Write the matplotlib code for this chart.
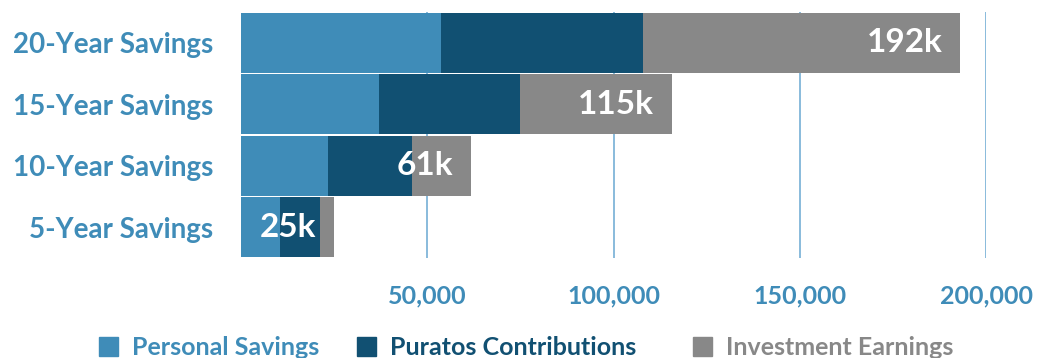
import matplotlib; matplotlib.use('Agg')
import matplotlib.pyplot as plt
from matplotlib.patches import Patch
from matplotlib.ticker import FuncFormatter

plt.rcParams['font.family'] = ['Lato', 'DejaVu Sans']

LIGHT = '#3f8cb8'; DARK = '#115072'; GRAY = '#888888'; GRID = '#6aa8d2'

categories = ['20-Year Savings', '15-Year Savings', '10-Year Savings', '5-Year Savings']
personal = [53.6, 37.0, 23.4, 10.5]      # thousands
puratos = [54.2, 37.9, 22.5, 10.7]
investment = [85.3, 40.8, 15.8, 3.8]
totals_lbl = ['192k', '115k', '61k', '25k']
xticks = [50000, 100000, 150000, 200000]
legend_lbl = ['Personal Savings', 'Puratos Contributions', 'Investment Earnings']

fig = plt.figure(figsize=(10.39, 3.58), dpi=100)
ax = fig.add_axes([241/1039, 1-258/358, 745/1039, 246/358])

y = list(range(len(categories)))[::-1]
p = [v*1000 for v in personal]; c = [v*1000 for v in puratos]; i = [v*1000 for v in investment]
left3 = [a+b for a, b in zip(p, c)]
ax.barh(y, p, height=0.97, color=LIGHT, zorder=2)
ax.barh(y, c, left=p, height=0.97, color=DARK, zorder=2)
ax.barh(y, i, left=left3, height=0.97, color=GRAY, zorder=2)

for yy, a, b, lab in zip(y, left3, i, totals_lbl):
    ax.annotate(lab, xy=(a+b, yy), xytext=(-18, 0), textcoords='offset pixels',
                ha='right', va='center', color='white', fontsize=24, fontweight='bold', zorder=3)

ax.set_xlim(0, 200000); ax.set_ylim(-0.5, 3.5)
ax.set_xticks(xticks)
ax.xaxis.set_major_formatter(FuncFormatter(lambda v, _: f'{int(v):,}'))
ax.set_yticks(y); ax.set_yticklabels(categories)
for s in ax.spines.values(): s.set_visible(False)
ax.grid(axis='x', color=GRID, lw=1.1, zorder=0); ax.grid(axis='y', visible=False)
ax.tick_params(axis='x', length=0, pad=19, labelsize=18, labelcolor=LIGHT)
ax.tick_params(axis='y', length=0, pad=20, labelsize=20, labelcolor=LIGHT)
for t in ax.get_xticklabels() + ax.get_yticklabels(): t.set_fontweight('bold')

# legend: three separate entries, placed like the reference
for lab, col, x0 in zip(legend_lbl, [LIGHT, DARK, GRAY], [99, 357, 693]):
    lg = fig.legend([Patch(color=col)], [lab], loc='center left', bbox_to_anchor=(x0/1039, 0.029),
                    frameon=False, borderpad=0, borderaxespad=0,
                    prop={'size': 18, 'weight': 'bold'}, handlelength=0.75, handleheight=0.75,
                    handletextpad=0.55)
    lg.get_texts()[0].set_color(col)

plt.savefig('out.png', dpi=100, facecolor='white')
